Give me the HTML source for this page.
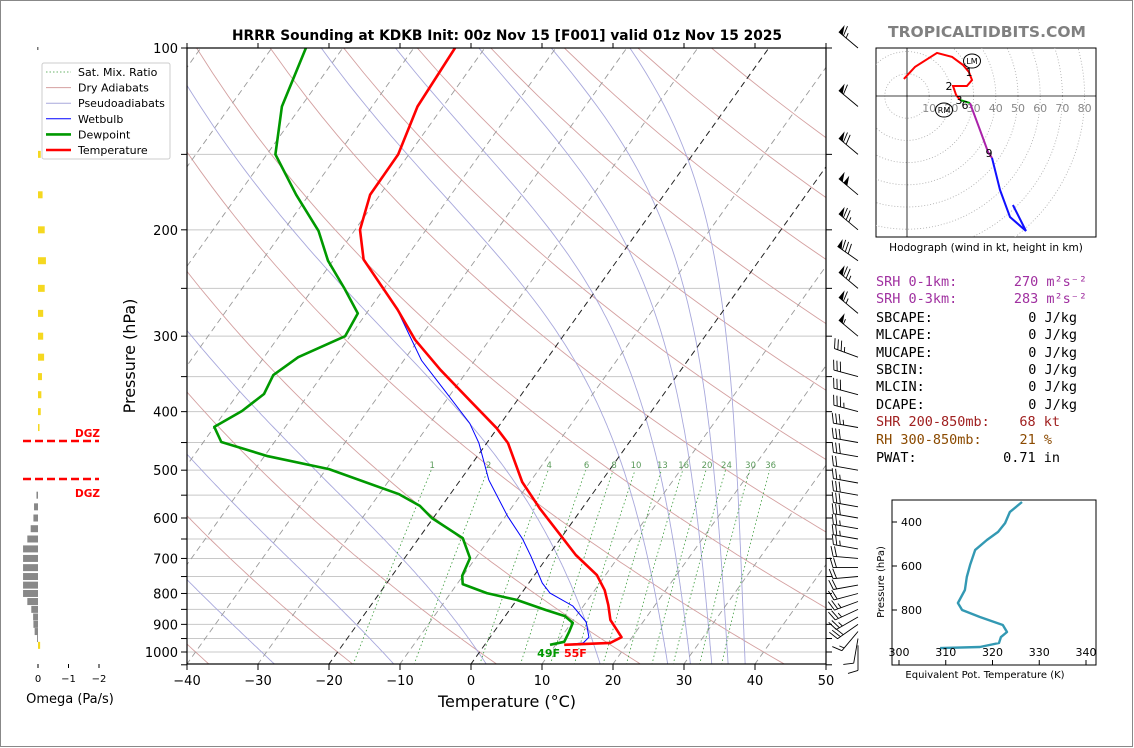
<!DOCTYPE html>
<html><head><meta charset="utf-8"><style>
body{margin:0;background:#fff;}
svg{display:block;font-family:"DejaVu Sans","Liberation Sans",sans-serif;}
</style></head><body>
<svg id="c" width="1134" height="748" viewBox="0 0 1134 748" xmlns="http://www.w3.org/2000/svg">
<rect x="0.5" y="0.5" width="1132" height="746" fill="#fff" stroke="#888"/>
<defs><clipPath id="pc"><rect x="187" y="48" width="639" height="616"/></clipPath>
<clipPath id="hc"><rect x="876" y="48" width="220" height="189"/></clipPath></defs>
<g id="bg" clip-path="url(#pc)"></g>
<g id="prof" clip-path="url(#pc)"></g>
<g id="ax"></g>
<text x="507" y="40" text-anchor="middle" font-size="13.8" font-weight="bold">HRRR Sounding at KDKB Init: 00z Nov 15 [F001] valid 01z Nov 15 2025</text>
<text x="987" y="37" text-anchor="middle" font-size="15.5" font-weight="bold" fill="#808080">TROPICALTIDBITS.COM</text>
<text x="507" y="707" text-anchor="middle" font-size="16">Temperature (°C)</text>
<text x="135" y="356" text-anchor="middle" font-size="16" transform="rotate(-90 135 356)">Pressure (hPa)</text>
<g id="leg"></g>
<g id="omega"></g>
<g id="barbs"></g>
<g id="hodo"></g>
<g id="stats"></g>
<g id="the"></g>
</svg>
<script>
// ---------- data ----------
const tempPres=[100,125,150,175,200,224,271,304,341,383,426,451,523,578,640,691,746,790,836,885,919,945,966,973];
const tempVal=[-64.2,-63.6,-61.5,-61.4,-59.3,-55.8,-46.0,-40.5,-33.9,-26.7,-20.1,-17.0,-11.1,-6.0,-0.4,3.8,8.8,11.4,13.4,15.2,17.1,18.5,17.5,11.2];
const dewPres=[100,125,150,175,201,225,250,275,300,325,348,374,399,424,449,474,498,548,573,600,648,699,748,772,799,820,852,872,895,927,962,973];
const dewVal=[-85.2,-82.7,-78.8,-71.8,-65,-60.7,-55.6,-51.2,-50.7,-55.2,-56.9,-56.3,-57.7,-60,-57.5,-49.5,-39.6,-27.2,-23.1,-20.2,-13.8,-10.8,-10.1,-9.2,-4.9,0.0,5.1,8.4,10.2,10.6,10.9,9.2];
const wbPres=[100,125,150,175,200,224,271,275,329,378,418,451,519,596,650,694,769,799,839,892,945,966,973];
const wbVal=[-64.2,-63.6,-61.5,-61.4,-59.3,-55.8,-46.0,-45.4,-37.5,-29.9,-24.4,-21.1,-16,-9.7,-5.3,-2.4,1.9,4.0,8.5,12,13.9,13.7,11.3];
const pLabels=[100,200,300,400,500,600,700,800,900,1000];
const tLabels=[-40,-30,-20,-10,0,10,20,30,40,50];
const mixRatios=[1,2,4,6,8,10,13,16,20,24,30,36];
const omegaUpP=[150,175,200,225,250,275,300,325,350,375,400,425,975];
const omegaUpV=[-0.09,-0.15,-0.22,-0.26,-0.22,-0.17,-0.17,-0.2,-0.13,-0.11,-0.09,-0.05,-0.07];
const omegaDnP=[550,575,600,625,650,675,700,725,750,775,800,825,850,875,900,925,950];
const omegaDnV=[0.05,0.13,0.15,0.24,0.35,0.49,0.49,0.49,0.49,0.49,0.49,0.35,0.22,0.16,0.15,0.11,0.03];
const barbP=[100,125,150,175,200,225,250,275,300,325,350,375,400,425,450,475,500,525,550,575,600,625,650,675,700,725,750,775,800,825,850,875,900,925,950,975];
const barbSpd=[65,60,70,100,75,80,75,65,55,35,30,30,35,35,30,30,20,25,30,30,30,25,25,25,20,20,20,20,20,25,25,25,30,15,10,8];
const barbDir=[310,310,310,310,310,305,310,310,310,290,285,285,285,280,280,280,280,280,280,280,280,280,280,280,275,270,265,260,255,250,245,240,235,220,190,180];
const hodoU=[-1.4,3.6,13.5,20.3,25.2,27.9,29.3,27.0,20.7,22.1,23.9,28.4,32.9,36.5,38.3,41.9,46.4,53.6,47.7];
const hodoV=[7.7,13.1,19.4,17.6,14.0,10.8,7.2,4.5,4.5,0.5,-1.8,-3.2,-15.3,-25.2,-27.9,-42.3,-54.5,-60.8,-49.1];
const thetaP=[309,355,405,445,482,527,595,650,709,768,800,832,868,900,923,950,968,973];
const thetaV=[326.3,323.7,322.7,321.2,318.8,316.3,315.2,314.5,314.1,312.6,313.5,317.3,322.2,323.1,321.8,321.4,317.3,308.8];
const moistStart=[-62,-45,-27.5,-10.7,2.3,18.3,27.8,31,34,36.3,38.7];

const NS="http://www.w3.org/2000/svg";
function mk(parent,tag,attrs,txt){const e=document.createElementNS(NS,tag);for(const k in attrs)e.setAttribute(k,attrs[k]);if(txt!==undefined)e.textContent=txt;document.getElementById(parent).appendChild(e);return e;}
const Y=p=>48+(Math.log10(p)-2)*604;
const X=(t,p)=>187+(t+40)*7.1+(664-Y(p))*0.714;
function pathFrom(ps,ts){return ps.map((p,i)=>(i?'L':'M')+X(ts[i],p).toFixed(1)+','+Y(p).toFixed(1)).join('');}
let e;
for(let p=100;p<=1000;p+=50){e=mk('bg','line',{x1:187,x2:826,y1:Y(p),y2:Y(p),stroke:'#c8c8c8','stroke-width':1});
}
for(let t0=-40;t0<=200;t0+=20){const th=t0+273.15;let d='';for(let p=1050;p>=100;p-=10){const t=th*Math.pow(p/1000,0.2857)-273.15;d+=(p===1050?'M':'L')+X(t,p).toFixed(1)+','+Y(p).toFixed(1);}
e=mk('bg','path',{d:d,fill:'none',stroke:'#d4a0a0','stroke-width':0.9});}
function es(tc){return 6.112*Math.exp(17.67*tc/(tc+243.5));}
function dTdp(T,p){const tc=T-273.15;const ee=es(tc);const rs=0.622*ee/(p-ee);return (287*T+2.5e6*rs)/(p*(1004+2.5e6*2.5e6*rs*0.622/(287*T*T)));}
moistStart.forEach(t0=>{let T=t0+273.15;let d='';for(let p=1050;p>=100;p-=5){d+=(p===1050?'M':'L')+X(T-273.15,p).toFixed(1)+','+Y(p).toFixed(1);T-=dTdp(T,p)*5;}
e=mk('bg','path',{d:d,fill:'none',stroke:'#a8a8dc','stroke-width':0.9});});
for(let t=-120;t<=50;t+=10){const blk=(t===0||t===-20);e=mk('bg','line',{x1:X(t,1050),y1:Y(1050),x2:X(t,100),y2:Y(100),stroke:blk?'#222':'#9a9a9a','stroke-width':blk?1:0.9,'stroke-dasharray':'6,4'});
}
mixRatios.forEach(w=>{let d='';for(let p=1050;p>=500;p-=10){const ee=w*p/(622+w);const a=Math.log(ee/6.112);const td=243.5*a/(17.67-a);d+=(p===1050?'M':'L')+X(td,p).toFixed(1)+','+Y(p).toFixed(1);}
e=mk('bg','path',{d:d,fill:'none',stroke:'#3a9a3a','stroke-width':0.8,'stroke-dasharray':'1.5,2.5'});
const ee=w*500/(622+w);const a=Math.log(ee/6.112);const td=243.5*a/(17.67-a);
e=mk('bg','text',{x:X(td,500)+1,y:Y(500)-2,'font-size':8.5,fill:'#5a9a5a','text-anchor':'middle'},String(w));});

e=mk('prof','path',{d:pathFrom(wbPres,wbVal),fill:'none',stroke:'#0000ff','stroke-width':1});
e=mk('prof','path',{d:pathFrom(dewPres,dewVal),fill:'none',stroke:'#009900','stroke-width':2.6,'stroke-linejoin':'round'});
e=mk('prof','path',{d:pathFrom(tempPres,tempVal),fill:'none',stroke:'#ff0000','stroke-width':2.6,'stroke-linejoin':'round'});
e=mk('ax','text',{x:X(9.2,973)+10,y:Y(973)+12,'font-size':11,'font-weight':'bold',fill:'#009900','text-anchor':'end'},'49F');
e=mk('ax','text',{x:X(9.2,973)+14,y:Y(973)+12,'font-size':11,'font-weight':'bold',fill:'#ff0000'},'55F');

mk('ax','rect',{x:187,y:48,width:639,height:616,fill:'none',stroke:'#000','stroke-width':1.2});
for(let p=100;p<=1050;p+=50){const y=Y(p);mk('ax','line',{x1:181,x2:187,y1:y,y2:y,stroke:'#000'});mk('ax','line',{x1:826,x2:832,y1:y,y2:y,stroke:'#000'});}
pLabels.forEach(p=>{e=mk('ax','text',{x:178,y:Y(p)+5,'font-size':13,'text-anchor':'end'},String(p));});
tLabels.forEach(t=>{const x=187+(t+40)*7.1;mk('ax','line',{x1:x,x2:x,y1:664,y2:670,stroke:'#000'});mk('ax','line',{x1:x,x2:x,y1:48,y2:43,stroke:'#000'});
e=mk('ax','text',{x:x,y:685,'font-size':13,'text-anchor':'middle'},t<0?'\u2212'+(-t):String(t));});

mk('leg','rect',{x:42,y:63,width:128,height:96,fill:'#fff',stroke:'#ccc',rx:2});
const legItems=[['Sat. Mix. Ratio','#3a9a3a',0.8,'1.5,2'],['Dry Adiabats','#d4a0a0',1,''],['Pseudoadiabats','#a8a8dc',1,''],['Wetbulb','#0000ff',1,''],['Dewpoint','#009900',2.6,''],['Temperature','#ff0000',2.6,'']];
legItems.forEach((it,i)=>{const y=72+i*15.6;const g=mk('leg','g',{});
const l=document.createElementNS(NS,'line');l.setAttribute('x1',46);l.setAttribute('x2',71);l.setAttribute('y1',y);l.setAttribute('y2',y);l.setAttribute('stroke',it[1]);l.setAttribute('stroke-width',it[2]);if(it[3])l.setAttribute('stroke-dasharray',it[3]);g.appendChild(l);
const t=document.createElementNS(NS,'text');t.setAttribute('x',78);t.setAttribute('y',y+4);t.setAttribute('font-size',11);t.textContent=it[0];g.appendChild(t);});

const OX=v=>38-v*30.5;
mk('omega','rect',{x:37,y:47,width:1.5,height:3,fill:'#777'});
omegaUpP.forEach((p,i)=>{const v=omegaUpV[i];const x0=OX(0),x1=OX(v);e=mk('omega','rect',{x:Math.min(x0,x1),y:Y(p)-3.5,width:Math.max(1,Math.abs(x1-x0)),height:7,fill:'#f5d820'});});
omegaDnP.forEach((p,i)=>{const v=omegaDnV[i];const x0=OX(0),x1=OX(v);e=mk('omega','rect',{x:Math.min(x0,x1),y:Y(p)-3.5,width:Math.abs(x1-x0),height:7,fill:'#888'});});
[[441,433],[479,493]].forEach(a=>{e=mk('omega','line',{x1:23,x2:99,y1:a[0],y2:a[0],stroke:'#ff0000','stroke-width':2.4,'stroke-dasharray':'8,4'});
e=mk('omega','text',{x:100,y:a[1]+4,'font-size':10.5,'font-weight':'bold',fill:'#ff0000','text-anchor':'end'},'DGZ');});
[[0,'0'],[-1,'\u22121'],[-2,'\u22122']].forEach(a=>{const x=OX(a[0]);mk('omega','line',{x1:x,x2:x,y1:664,y2:668,stroke:'#000'});mk('omega','text',{x:x,y:682,'font-size':10,'text-anchor':'middle'},a[1]);});
e=mk('omega','text',{x:70,y:703,'font-size':13,'text-anchor':'middle'},'Omega (Pa/s)');

barbP.forEach((p,i)=>{const spd=barbSpd[i],dir=barbDir[i]*Math.PI/180;const bx=858,by=Y(p);
const sx=Math.sin(dir),sy=-Math.cos(dir);
const L=25;const tx=bx+sx*L,ty=by+sy*L;
const g=mk('barbs','g',{stroke:'#000','stroke-width':0.9,fill:'#000'});
let d='M'+bx+','+by.toFixed(1)+'L'+tx.toFixed(1)+','+ty.toFixed(1);
const px=-sy,py=sx;
let rem=Math.round(spd/5)*5;let pos=0;let polys='';
while(rem>=50){const a=[tx-sx*pos,ty-sy*pos],b=[tx-sx*(pos+5),ty-sy*(pos+5)];const c=[a[0]+px*9,a[1]+py*9];polys+='M'+a.join(',')+'L'+c.join(',')+'L'+b.join(',')+'Z';pos+=6;rem-=50;}
while(rem>=10){const a=[tx-sx*pos,ty-sy*pos];d+='M'+a[0].toFixed(1)+','+a[1].toFixed(1)+'l'+(px*10+sx*3).toFixed(1)+','+(py*10+sy*3).toFixed(1);pos+=3.5;rem-=10;}
if(rem>=5){if(pos===0)pos=3.5;const a=[tx-sx*pos,ty-sy*pos];d+='M'+a[0].toFixed(1)+','+a[1].toFixed(1)+'l'+(px*5+sx*1.5).toFixed(1)+','+(py*5+sy*1.5).toFixed(1);}
const s=document.createElementNS(NS,'path');s.setAttribute('d',d);s.setAttribute('fill','none');g.appendChild(s);
if(polys){const q=document.createElementNS(NS,'path');q.setAttribute('d',polys);q.setAttribute('stroke','none');g.appendChild(q);}});

const HX=u=>907+u*2.22,HY=v=>96-v*2.22;
mk('hodo','rect',{x:876,y:48,width:220,height:189,fill:'#fff',stroke:'#000','stroke-width':1});
const hg=mk('hodo','g',{'clip-path':'url(#hc)'});
for(let r=10;r<=80;r+=10){const c=document.createElementNS(NS,'circle');c.setAttribute('cx',907);c.setAttribute('cy',96);c.setAttribute('r',r*2.22);c.setAttribute('fill','none');c.setAttribute('stroke','#aaa');c.setAttribute('stroke-width',0.8);c.setAttribute('stroke-dasharray','1,2');hg.appendChild(c);
const t=document.createElementNS(NS,'text');t.setAttribute('x',HX(r));t.setAttribute('y',112);t.setAttribute('font-size',11);t.setAttribute('fill','#888');t.setAttribute('text-anchor','middle');t.textContent=String(r);hg.appendChild(t);}
mk('hodo','line',{x1:876,x2:1096,y1:96,y2:96,stroke:'#000','stroke-width':0.8});
mk('hodo','line',{x1:907,x2:907,y1:48,y2:237,stroke:'#000','stroke-width':0.8});
function hseg(a,b,col,nm){const d=hodoU.slice(a,b+1).map((u,i)=>(i?'L':'M')+HX(u).toFixed(1)+','+HY(hodoV[a+i]).toFixed(1)).join('');e=mk('hodo','path',{d:d,fill:'none',stroke:col,'stroke-width':2});}
hseg(0,10,'#ff0000','hodograph-0-3km');hseg(10,11,'#00aa00','hodograph-3-6km');hseg(11,14,'#aa22aa','hodograph-6-9km');hseg(14,18,'#1010ff','hodograph-9km-up');
[['1',969,76],['2',949,90],['3',959,104],['6',965,109],['9',989,157]].forEach(a=>{e=mk('hodo','text',{x:a[1],y:a[2],'font-size':11,'text-anchor':'middle'},a[0]);});
[['LM',972,61],['RM',944,110]].forEach(a=>{mk('hodo','ellipse',{cx:a[1],cy:a[2],rx:8.5,ry:7,fill:'none',stroke:'#000'});mk('hodo','text',{x:a[1],y:a[2]+3,'font-size':8,'text-anchor':'middle'},a[0]);});
e=mk('hodo','text',{x:986,y:251,'font-size':10.5,'text-anchor':'middle'},'Hodograph (wind in kt, height in km)');

const rows=[['SRH 0-1km:','270 m²s⁻²','#a030a0',286,1087],['SRH 0-3km:','283 m²s⁻²','#a030a0',303,1087],['SBCAPE:','0 J/kg','#000',322,1077],['MLCAPE:','0 J/kg','#000',339,1077],['MUCAPE:','0 J/kg','#000',357,1077],['SBCIN:','0 J/kg','#000',374,1077],['MLCIN:','0 J/kg','#000',391,1077],['DCAPE:','0 J/kg','#000',409,1077],['SHR 200-850mb:','68 kt','#a02020',426,1060],['RH 300-850mb:','21 %','#8b4a00',444,1052],['PWAT:','0.71 in','#000',462,1060]];
rows.forEach(r=>{const g=mk('stats','g',{fill:r[2],'font-family':'"DejaVu Sans Mono","Liberation Mono",monospace','font-size':13.5});
const a=document.createElementNS(NS,'text');a.setAttribute('x',876);a.setAttribute('y',r[3]);a.textContent=r[0];g.appendChild(a);
const b=document.createElementNS(NS,'text');b.setAttribute('x',r[4]);b.setAttribute('y',r[3]);b.setAttribute('text-anchor','end');b.textContent=r[1];g.appendChild(b);});

const TX=t=>899+(t-300)*4.675,TY=p=>522+(p-400)*0.22;
mk('the','rect',{x:892,y:500,width:204,height:165,fill:'#fff',stroke:'#000','stroke-width':1});
e=mk('the','path',{d:thetaP.map((p,i)=>(i?'L':'M')+TX(thetaV[i]).toFixed(1)+','+TY(p).toFixed(1)).join(''),fill:'none',stroke:'#3399b3','stroke-width':2.4,'stroke-linejoin':'round'});
[400,600,800].forEach(p=>{mk('the','line',{x1:892,x2:897,y1:TY(p),y2:TY(p),stroke:'#000'});mk('the','text',{x:922,y:TY(p)+4,'font-size':11,'text-anchor':'end'},String(p));});
[300,310,320,330,340].forEach(t=>{mk('the','line',{x1:TX(t),x2:TX(t),y1:665,y2:660,stroke:'#000'});mk('the','text',{x:TX(t),y:656,'font-size':11,'text-anchor':'middle'},String(t));});
mk('the','text',{x:985,y:678,'font-size':10,'text-anchor':'middle'},'Equivalent Pot. Temperature (K)');
mk('the','text',{x:884,y:582,'font-size':10,'text-anchor':'middle',transform:'rotate(-90 884 582)'},'Pressure (hPa)');
</script>
</body></html>
